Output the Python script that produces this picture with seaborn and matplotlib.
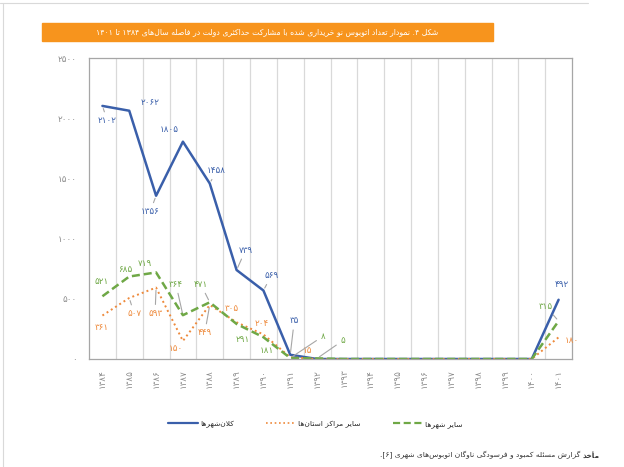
import re
import numpy as np
import pandas as pd
import matplotlib
matplotlib.use("Agg")
import matplotlib.pyplot as plt
import matplotlib.patches as mpatches
from matplotlib.lines import Line2D
import seaborn as sns

# ─────────────────────────────────────────
# DATA
# ─────────────────────────────────────────

years = ["۱۳۸۴", "۱۳۸۵", "۱۳۸۶", "۱۳۸۷", "۱۳۸۸", "۱۳۸۹", "۱۳۹۰", "۱۳۹۱", "۱۳۹۲",
         "۱۳۹۳", "۱۳۹۴", "۱۳۹۵", "۱۳۹۶", "۱۳۹۷", "۱۳۹۸", "۱۳۹۹", "۱۴۰۰", "۱۴۰۱"]
metro = [2102, 2062, 1356, 1805, 1458, 739, 569, 35, 0, 0, 0, 0, 0, 0, 0, 0, 0, 492]
prov_centers = [361, 507, 593, 150, 449, 305, 204, 15, 0, 0, 0, 0, 0, 0, 0, 0, 0, 180]
other_cities = [521, 685, 719, 364, 471, 291, 181, 8, 5, 0, 0, 0, 0, 0, 0, 0, 0, 315]

series_names = ["کلان‌شهرها", "سایر مراکز استان‌ها", "سایر شهرها"]
title = "شکل ۴. نمودار تعداد اتوبوس نو خریداری شده با مشارکت حداکثری دولت در فاصله سال‌های ۱۳۸۴ تا ۱۴۰۱"
source_head = "مأخذ"
source_body = "گزارش مسئله کمبود و فرسودگی ناوگان اتوبوس‌های شهری [۶]."

# ─────────────────────────────────────────
# PERSIAN SHAPING (matplotlib has no bidi / joining)
# ─────────────────────────────────────────

DUAL = {0x0626: 0xFE89, 0x0628: 0xFE8F, 0x062A: 0xFE95, 0x062B: 0xFE99, 0x062C: 0xFE9D,
        0x062D: 0xFEA1, 0x062E: 0xFEA5, 0x0633: 0xFEB1, 0x0634: 0xFEB5, 0x0635: 0xFEB9,
        0x0636: 0xFEBD, 0x0637: 0xFEC1, 0x0638: 0xFEC5, 0x0639: 0xFEC9, 0x063A: 0xFECD,
        0x0641: 0xFED1, 0x0642: 0xFED5, 0x0643: 0xFED9, 0x0644: 0xFEDD, 0x0645: 0xFEE1,
        0x0646: 0xFEE5, 0x0647: 0xFEE9, 0x064A: 0xFEF1, 0x067E: 0xFB56, 0x0686: 0xFB7A,
        0x06A9: 0xFB8E, 0x06AF: 0xFB92, 0x06CC: 0xFBFC}
RIGHT = {0x0622: 0xFE81, 0x0623: 0xFE83, 0x0624: 0xFE85, 0x0625: 0xFE87, 0x0627: 0xFE8D,
         0x0629: 0xFE93, 0x062F: 0xFEA9, 0x0630: 0xFEAB, 0x0631: 0xFEAD, 0x0632: 0xFEAF,
         0x0648: 0xFEED, 0x0698: 0xFB8A, 0x0649: 0xFEEF}
LAM_ALEF = {0x0627: 0xFEFB, 0x0622: 0xFEF5, 0x0623: 0xFEF7, 0x0625: 0xFEF9}
MIRROR = str.maketrans("[]()", "][)(")
DIGITS = "0-9\u06F0-\u06F9"


def _joining(c):
    return ord(c) in DUAL or ord(c) in RIGHT


def shape(s):
    out = []
    i, n = 0, len(s)
    while i < n:
        o = ord(s[i])
        link_prev = i > 0 and ord(s[i - 1]) in DUAL and _joining(s[i])
        if o == 0x0644 and i + 1 < n and ord(s[i + 1]) in LAM_ALEF:
            base = LAM_ALEF[ord(s[i + 1])]
            out.append(chr(base + 1 if link_prev else base))
            i += 2
            continue
        if o in DUAL or o in RIGHT:
            link_next = o in DUAL and i + 1 < n and _joining(s[i + 1])
            base = DUAL.get(o, RIGHT.get(o))
            if link_prev and link_next:
                out.append(chr(base + 3))
            elif link_prev:
                out.append(chr(base + 1))
            elif link_next:
                out.append(chr(base + 2))
            else:
                out.append(chr(base))
        elif o != 0x200C:
            out.append(s[i])
        i += 1
    return "".join(out)


def fa(s):
    s = shape(s)
    runs = re.findall(rf"[{DIGITS}]+(?:[.,/][{DIGITS}]+)*|[^{DIGITS}]+", s)
    vis = []
    for r in reversed(runs):
        if r[0].isdigit():
            vis.append(r)
        else:
            vis.append(r[::-1].translate(MIRROR))
    return "".join(vis)


def fa_num(v):
    return str(v).translate(str.maketrans("0123456789", "۰۱۲۳۴۵۶۷۸۹"))


# ─────────────────────────────────────────
# STYLE
# ─────────────────────────────────────────

sns.set_style("white")
plt.rcParams["font.family"] = ["DejaVu Sans"]

BLUE = "#3A5FAA"
ORANGE = "#EE8A3C"
GREEN = "#6FA846"
GREY_TXT = "#8C8C8C"
LEADER = "#A6A6A6"

x = np.arange(len(years))
df = pd.DataFrame({"pos": x, "metro": metro, "prov": prov_centers, "other": other_cities})

fig = plt.figure(figsize=(6.24, 4.67), dpi=100)
ax = fig.add_axes([89 / 624, 1 - 359 / 467, (572 - 89) / 624, (359 - 58) / 467])

sns.lineplot(data=df, x="pos", y="metro", ax=ax, color=BLUE, linewidth=1.8)
sns.lineplot(data=df, x="pos", y="prov", ax=ax, color=ORANGE, linewidth=1.4,
             linestyle=(0, (1, 1.6)))
sns.lineplot(data=df, x="pos", y="other", ax=ax, color=GREEN, linewidth=1.8,
             linestyle=(0, (3.2, 1.6)))

ax.set_xlim(-0.5, len(years) - 0.5)
ax.set_ylim(0, 2500)
ax.set_xlabel("")
ax.set_ylabel("")

ax.set_xticks(x)
ax.set_xticklabels(years, rotation=90, fontsize=6.3, color=GREY_TXT)
ax.set_xticks(x[:-1] + 0.5, minor=True)
ax.set_yticks(np.arange(0, 2501, 500))
ax.set_yticklabels([fa_num(v) for v in np.arange(0, 2501, 500)], fontsize=6.3, color=GREY_TXT)
ax.tick_params(axis="both", which="both", length=0)
ax.tick_params(axis="x", pad=7)
ax.tick_params(axis="y", pad=9)
ax.grid(axis="x", which="minor", color="#D9D9D9", linewidth=0.9)
ax.grid(axis="x", which="major", visible=False)
ax.grid(axis="y", visible=False)
for sp in ax.spines.values():
    sp.set_color("#A6A6A6")
    sp.set_linewidth(0.9)

# ─────────────────────────────────────────
# DATA LABELS  (index -> offset in pixels, leader line?)
# ─────────────────────────────────────────

label_layout = [
    (metro, BLUE, {0: (5, -15, True), 1: (21, 8, False), 2: (-6, -16, True),
                   3: (-14, 12, False), 4: (7, 13, True), 5: (9, 20, True),
                   6: (8, 15, True), 7: (4, 34, True), 17: (3, 15, False)}),
    (prov_centers, ORANGE, {0: (-1, -12, False), 1: (5, -16, True), 2: (-1, -26, True),
                            3: (-7, -8, False), 4: (-5, -28, True), 5: (-5, 14, False),
                            6: (-2, 11, False), 7: (17, 7, False), 17: (13, -3, False)}),
    (other_cities, GREEN, {0: (-1, 15, False), 1: (-4, 7, False), 2: (-11, 9, False),
                           3: (-7, 31, True), 4: (-9, 18, True), 5: (6, -16, False),
                           6: (3, -13, False), 7: (33, 22, True), 8: (26, 18, True),
                           17: (-13, 15, True)}),
]

for values, color, spots in label_layout:
    for idx, (dx, dy, leader) in spots.items():
        ap = None
        if leader:
            ap = dict(arrowstyle="-", color=LEADER, lw=0.8, shrinkA=1, shrinkB=2)
        ax.annotate(fa_num(values[idx]), xy=(x[idx], values[idx]),
                    xytext=(dx, dy), textcoords="offset pixels",
                    ha="center", va="center", fontsize=6.3, color=color,
                    arrowprops=ap, zorder=5)

# ─────────────────────────────────────────
# LEGEND, TITLE BANNER, SOURCE
# ─────────────────────────────────────────

handles = [
    Line2D([0], [0], color=BLUE, linewidth=1.6),
    Line2D([0], [0], color=ORANGE, linewidth=1.2, linestyle=(0, (1, 1.6))),
    Line2D([0], [0], color=GREEN, linewidth=1.6, linestyle=(0, (3.2, 1.6))),
]
fig.legend(handles=handles, labels=[fa(n) for n in series_names], loc="center",
           bbox_to_anchor=(0.505, 1 - 424 / 467), ncol=3, frameon=False,
           fontsize=5.4, handlelength=4.0, handletextpad=0.3, columnspacing=4.3)

fig.patches.append(mpatches.Rectangle((42 / 624, 1 - 41 / 467), 451 / 624, 18 / 467,
                                      transform=fig.transFigure, color="#F7941D", zorder=0))
fig.text(267 / 624, 1 - 32 / 467, fa(title), ha="center", va="center",
         fontsize=5.6, color="white")

# page frame (top and left edges)
fig.add_artist(Line2D([0, 588 / 624], [1 - 3 / 467, 1 - 3 / 467], transform=fig.transFigure,
                      color="#D9D9D9", linewidth=0.8))
fig.add_artist(Line2D([3 / 624, 3 / 624], [0, 1 - 3 / 467], transform=fig.transFigure,
                      color="#D9D9D9", linewidth=0.8))

head = fig.text(600 / 624, 1 - 455 / 467, fa(source_head), ha="right", va="center",
                fontsize=5.4, fontweight="bold", color="#333333")
ax.annotate(fa(source_body) + " ", xy=(0, 0.5), xycoords=head, ha="right", va="center",
            fontsize=5.4, color="#333333", annotation_clip=False)

fig.savefig("out.png", dpi=100)
